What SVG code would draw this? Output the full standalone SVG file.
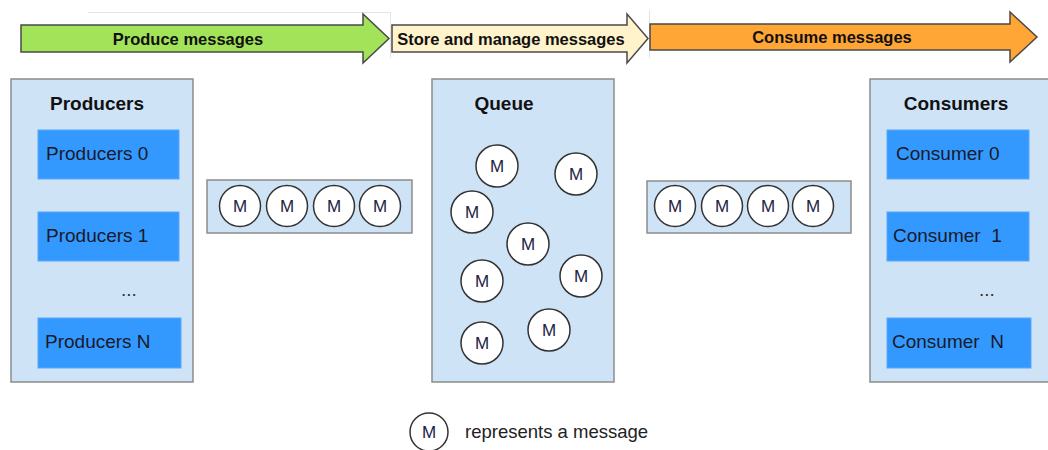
<svg xmlns="http://www.w3.org/2000/svg" width="1048" height="450" viewBox="0 0 1048 450">
  <style>
    .stage { stroke: #4a4a4a; stroke-width: 1.5; }
    .stage-label { font-family: "Liberation Sans", Arial, sans-serif; font-size: 16.5px; font-weight: bold; fill: #111; text-anchor: middle; }
    .panel { fill: #cfe3f7; stroke: #8c8c8c; stroke-width: 1.5; }
    .panel-title { font-family: "Liberation Sans", Arial, sans-serif; font-size: 19px; font-weight: bold; fill: #111; text-anchor: middle; }
    .item { fill: #3399ff; stroke: #5aa8f5; stroke-width: 1; }
    .item-label { font-family: "Liberation Sans", Arial, sans-serif; font-size: 19px; fill: #1a1a2a; }
    .dots { font-family: "Liberation Sans", Arial, sans-serif; font-size: 19px; fill: #333; }
    .tray { fill: #cfe3f7; stroke: #8c8c8c; stroke-width: 1.5; }
    .msg { fill: #ffffff; stroke: #333; stroke-width: 1.5; }
    .msg-label { font-family: "Liberation Sans", Arial, sans-serif; font-size: 17px; fill: #222244; text-anchor: middle; }
    .legend { font-family: "Liberation Sans", Arial, sans-serif; font-size: 18.5px; fill: #222; }
    .guide { stroke: #e4e4e4; stroke-width: 1; fill: none; }
  </style>

  <rect width="1048" height="450" fill="#ffffff"/>

  <!-- faint frame lines around the stage banner -->
  <path class="guide" d="M88 12.5 H390 M390.5 12 V58 M649.5 10 V58"/>

  <!-- stage arrows -->
  <g id="stage-produce">
    <polygon class="stage" fill="#a3e35a" points="21,25 363,25 363,14 389,38.5 363,63 363,52 21,52"/>
    <text class="stage-label" x="188" y="44.5">Produce messages</text>
  </g>
  <g id="stage-store">
    <polygon class="stage" fill="#fff3cc" points="392,25 627,25 627,14 648,38.5 627,63 627,52 392,52"/>
    <text class="stage-label" x="511" y="44.5">Store and manage messages</text>
  </g>
  <g id="stage-consume">
    <polygon class="stage" fill="#ffa636" points="650,24 1010,24 1010,12 1037,37 1010,62 1010,50 650,50"/>
    <text class="stage-label" x="832" y="42.5">Consume messages</text>
  </g>

  <!-- producers panel -->
  <g id="producers">
    <rect class="panel" x="11" y="79" width="182" height="303"/>
    <text class="panel-title" x="97" y="110">Producers</text>
    <rect class="item" x="38" y="130" width="141" height="49"/>
    <text class="item-label" x="46" y="160">Producers 0</text>
    <rect class="item" x="38" y="212" width="141" height="49"/>
    <text class="item-label" x="46" y="242">Producers 1</text>
    <text class="dots" x="121" y="296">...</text>
    <rect class="item" x="38" y="318" width="143" height="50"/>
    <text class="item-label" x="45" y="348">Producers N</text>
  </g>

  <!-- incoming message tray -->
  <g id="tray-in">
    <rect class="tray" x="207" y="180" width="205" height="53"/>
    <circle class="msg" cx="240" cy="206" r="20.5"/>
    <text class="msg-label" x="240" y="212">M</text>
    <circle class="msg" cx="287" cy="206" r="20.5"/>
    <text class="msg-label" x="287" y="212">M</text>
    <circle class="msg" cx="334" cy="206" r="20.5"/>
    <text class="msg-label" x="334" y="212">M</text>
    <circle class="msg" cx="380" cy="206" r="20.5"/>
    <text class="msg-label" x="380" y="212">M</text>
  </g>

  <!-- queue panel -->
  <g id="queue">
    <rect class="panel" x="432" y="79" width="182" height="303"/>
    <text class="panel-title" x="504" y="110">Queue</text>
    <circle class="msg" cx="497" cy="166" r="21"/>
    <text class="msg-label" x="497" y="172">M</text>
    <circle class="msg" cx="576" cy="174" r="21"/>
    <text class="msg-label" x="576" y="180">M</text>
    <circle class="msg" cx="472" cy="212" r="21"/>
    <text class="msg-label" x="472" y="218">M</text>
    <circle class="msg" cx="528" cy="244" r="21"/>
    <text class="msg-label" x="528" y="250">M</text>
    <circle class="msg" cx="482" cy="281" r="21"/>
    <text class="msg-label" x="482" y="287">M</text>
    <circle class="msg" cx="581" cy="276" r="21"/>
    <text class="msg-label" x="581" y="282">M</text>
    <circle class="msg" cx="482" cy="343" r="21"/>
    <text class="msg-label" x="482" y="349">M</text>
    <circle class="msg" cx="549" cy="330" r="21"/>
    <text class="msg-label" x="549" y="336">M</text>
  </g>

  <!-- outgoing message tray -->
  <g id="tray-out">
    <rect class="tray" x="647" y="181" width="204" height="52"/>
    <circle class="msg" cx="675" cy="206" r="20.5"/>
    <text class="msg-label" x="675" y="212">M</text>
    <circle class="msg" cx="722" cy="206" r="20.5"/>
    <text class="msg-label" x="722" y="212">M</text>
    <circle class="msg" cx="768" cy="206" r="20.5"/>
    <text class="msg-label" x="768" y="212">M</text>
    <circle class="msg" cx="813" cy="206" r="20.5"/>
    <text class="msg-label" x="813" y="212">M</text>
  </g>

  <!-- consumers panel -->
  <g id="consumers">
    <rect class="panel" x="870" y="79" width="190" height="303"/>
    <text class="panel-title" x="956" y="110">Consumers</text>
    <rect class="item" x="887" y="130" width="142" height="49"/>
    <text class="item-label" x="896" y="160">Consumer 0</text>
    <rect class="item" x="887" y="212" width="142" height="49"/>
    <text class="item-label" x="893" y="242" xml:space="preserve">Consumer  1</text>
    <text class="dots" x="979" y="296">...</text>
    <rect class="item" x="887" y="318" width="144" height="50"/>
    <text class="item-label" x="892" y="348" xml:space="preserve">Consumer  N</text>
  </g>

  <!-- legend -->
  <g id="legend">
    <circle class="msg" cx="429" cy="432" r="19"/>
    <text class="msg-label" x="429" y="438">M</text>
    <text class="legend" x="465" y="438">represents a message</text>
  </g>
</svg>
